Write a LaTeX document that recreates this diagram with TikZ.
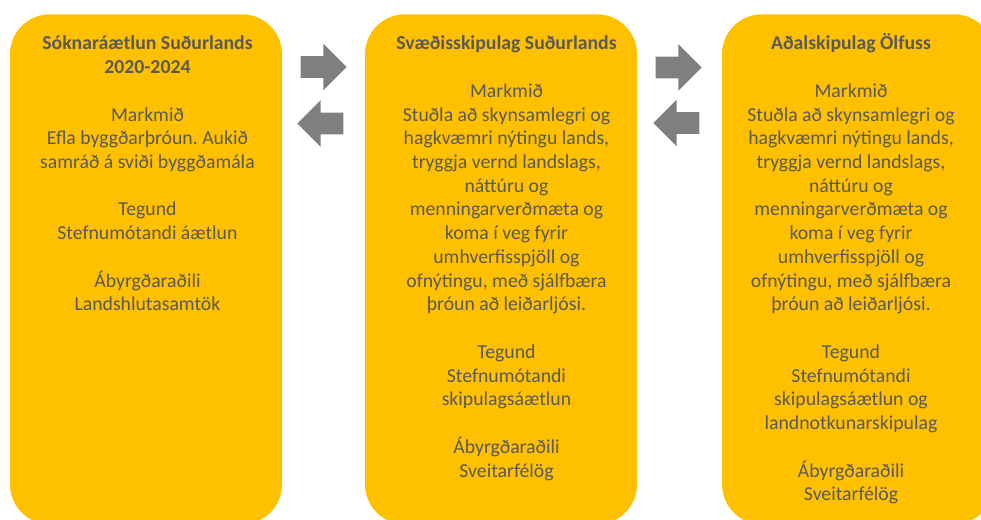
\documentclass[tikz,border=0pt]{standalone}
\usepackage{fontspec}
\setmainfont{Carlito}
\usepackage{xcolor}
\usepackage{tikz}
\usetikzlibrary{shapes,arrows,positioning,calc,arrows.meta}
\definecolor{planyellow}{HTML}{FFC000}
\definecolor{arrowgray}{HTML}{7F7F7F}
\definecolor{textgray}{HTML}{595959}
\frenchspacing

\begin{document}
\begin{tikzpicture}[x=0.75pt, y=0.75pt,
    plan/.style={draw=none, fill=planyellow, rounded corners=30pt, anchor=north,
        minimum width=204pt, minimum height=382.5pt, inner sep=0pt},
    plantext/.style={anchor=north, align=center, inner sep=0pt, text=textgray,
        font=\fontsize{14.8pt}{17.8pt}\selectfont},
    flow/.style={single arrow, fill=arrowgray, draw=none, inner xsep=0pt, inner ysep=7.9pt,
        minimum height=34.5pt, single arrow head extend=9.4pt, single arrow tip angle=90, anchor=tip}]
    \clip (0,0) rectangle (981,-519);

    \node[plan] (soknar) at (146,-14) {};
    \node[plan] (svaedis) at (501,-14) {};
    \node[plan] (adal) at (858,-14) {};

    \node[plantext, below=14.2pt of soknar.north, xshift=1.1pt] (soknartext) {\strut\textbf{Sóknaráætlun Suðurlands}\\
        \textbf{2020-2024}\\[17.8pt]
        Markmið\\
        Efla byggðarþróun. Aukið\\
        samráð á sviði byggðamála\\[17.8pt]
        Tegund\\
        Stefnumótandi áætlun\\[17.8pt]
        Ábyrgðaraðili\\
        Landshlutasamtök};

    \node[plantext, below=14.2pt of svaedis.north, xshift=4.1pt] (svaedistext) {\strut\textbf{Svæðisskipulag Suðurlands}\\[17.8pt]
        Markmið\\
        Stuðla að skynsamlegri og\\
        hagkvæmri nýtingu lands,\\
        tryggja vernd landslags,\\
        náttúru og\\
        menningarverðmæta og\\
        koma í veg fyrir\\
        umhverfisspjöll og\\
        ofnýtingu, með sjálfbæra\\
        þróun að leiðarljósi.\\[17.8pt]
        Tegund\\
        Stefnumótandi\\
        skipulagsáætlun\\[17.8pt]
        Ábyrgðaraðili\\
        Sveitarfélög};

    \node[plantext, below=14.2pt of adal.north, xshift=-5.25pt] (adaltext) {\strut\textbf{Aðalskipulag Ölfuss}\\[17.8pt]
        Markmið\\
        Stuðla að skynsamlegri og\\
        hagkvæmri nýtingu lands,\\
        tryggja vernd landslags,\\
        náttúru og\\
        menningarverðmæta og\\
        koma í veg fyrir\\
        umhverfisspjöll og\\
        ofnýtingu, með sjálfbæra\\
        þróun að leiðarljósi.\\[17.8pt]
        Tegund\\
        Stefnumótandi\\
        skipulagsáætlun og\\
        landnotkunarskipulag\\[17.8pt]
        Ábyrgðaraðili\\
        Sveitarfélög};

    % arrows between the plans, placed by their tips
    \node[flow] (right1) at (347,-67) {};
    \node[flow, shape border rotate=180] (left1) at (297,-123.5) {};
    \node[flow] (right2) at (702,-67.5) {};
    \node[flow, shape border rotate=180] (left2) at (653,-123) {};
\end{tikzpicture}
\end{document}
